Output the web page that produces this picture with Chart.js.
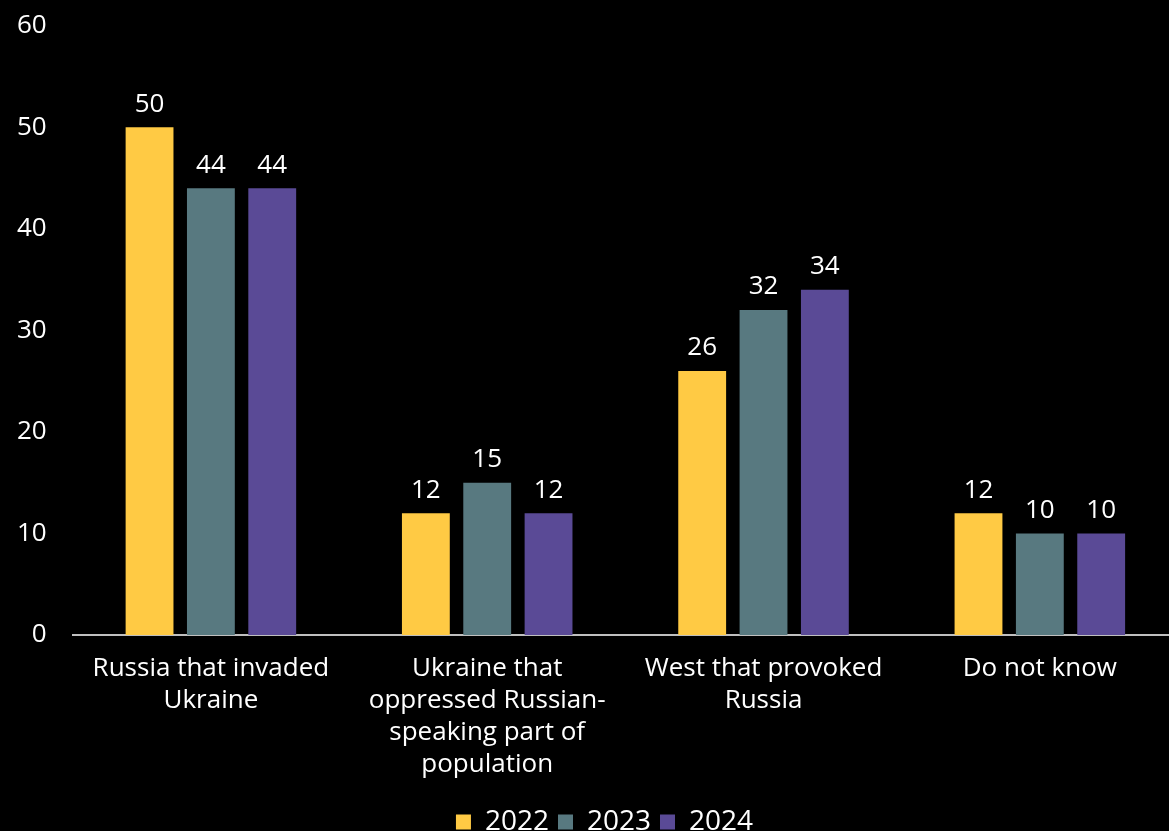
<!DOCTYPE html>
<html>
<head>
<meta charset="utf-8">
<script src="https://cdn.jsdelivr.net/npm/chart.js@4.4.1/dist/chart.umd.min.js"></script>
<style>
  html, body { margin: 0; padding: 0; background: #000; overflow: hidden; }
  #wrap { width: 1189px; height: 862px; margin-top: -16px; margin-left: -9px; }
</style>
</head>
<body>
<div id="wrap"><canvas id="blame"></canvas></div>
<script>
const categories = [
    ['Russia that invaded', 'Ukraine'],
    ['Ukraine that', 'oppressed Russian-', 'speaking part of', 'population'],
    ['West that provoked', 'Russia'],
    ['Do not know']
];
const years = ['2022', '2023', '2024'];
const values2022 = [50, 12, 26, 12];
const values2023 = [44, 15, 32, 10];
const values2024 = [44, 12, 34, 10];
const yTicks = [0, 10, 20, 30, 40, 50, 60];

const colors = ['#FFCA44', '#587980', '#5A4A96'];
const FONT = '"Open Sans", sans-serif';

// white value labels above each bar
const barLabels = {
    id: 'barLabels',
    afterDatasetsDraw(chart) {
        const ctx = chart.ctx;
        ctx.save();
        ctx.fillStyle = '#fff';
        ctx.font = '26px ' + FONT;
        ctx.textAlign = 'center';
        ctx.textBaseline = 'bottom';
        chart.data.datasets.forEach((ds, i) => {
            chart.getDatasetMeta(i).data.forEach((bar, j) => {
                ctx.fillText(ds.data[j], bar.x, bar.y - 10);
            });
        });
        ctx.restore();
    }
};

// nudge the legend a little right of centre
const legendShift = {
    id: 'legendShift',
    afterLayout(chart) {
        const lg = chart.legend;
        lg.left += 20;
        lg.right += 20;
        lg.adjustHitBoxes();
    }
};

new Chart(document.getElementById('blame').getContext('2d'), {
    type: 'bar',
    data: {
        labels: categories,
        datasets: [values2022, values2023, values2024].map((vals, i) => ({
            label: years[i],
            data: vals,
            backgroundColor: colors[i],
            categoryPercentage: 0.666,
            barPercentage: 0.78
        }))
    },
    plugins: [barLabels, legendShift],
    options: {
        responsive: true,
        maintainAspectRatio: false,
        animation: false,
        layout: { padding: { top: 0, right: 2, left: 0, bottom: 0 } },
        scales: {
            x: {
                grid: { display: false, drawTicks: false },
                border: { color: '#BFBFBF', width: 2 },
                ticks: {
                    color: '#fff',
                    font: { size: 26, family: FONT, lineHeight: 1.23 },
                    padding: 18,
                    maxRotation: 0,
                    autoSkip: false
                }
            },
            y: {
                min: 0,
                max: 60,
                afterBuildTicks: axis => { axis.ticks = yTicks.map(v => ({ value: v })); },
                grid: { display: false, drawTicks: false },
                border: { display: false },
                ticks: {
                    color: '#fff',
                    font: { size: 26, family: FONT },
                    padding: 26
                }
            }
        },
        plugins: {
            legend: {
                position: 'bottom',
                labels: {
                    color: '#fff',
                    font: { size: 28, family: FONT },
                    boxWidth: 15,
                    boxHeight: 15,
                    padding: 9
                }
            },
            tooltip: { enabled: false }
        }
    }
});
</script>
</body>
</html>
